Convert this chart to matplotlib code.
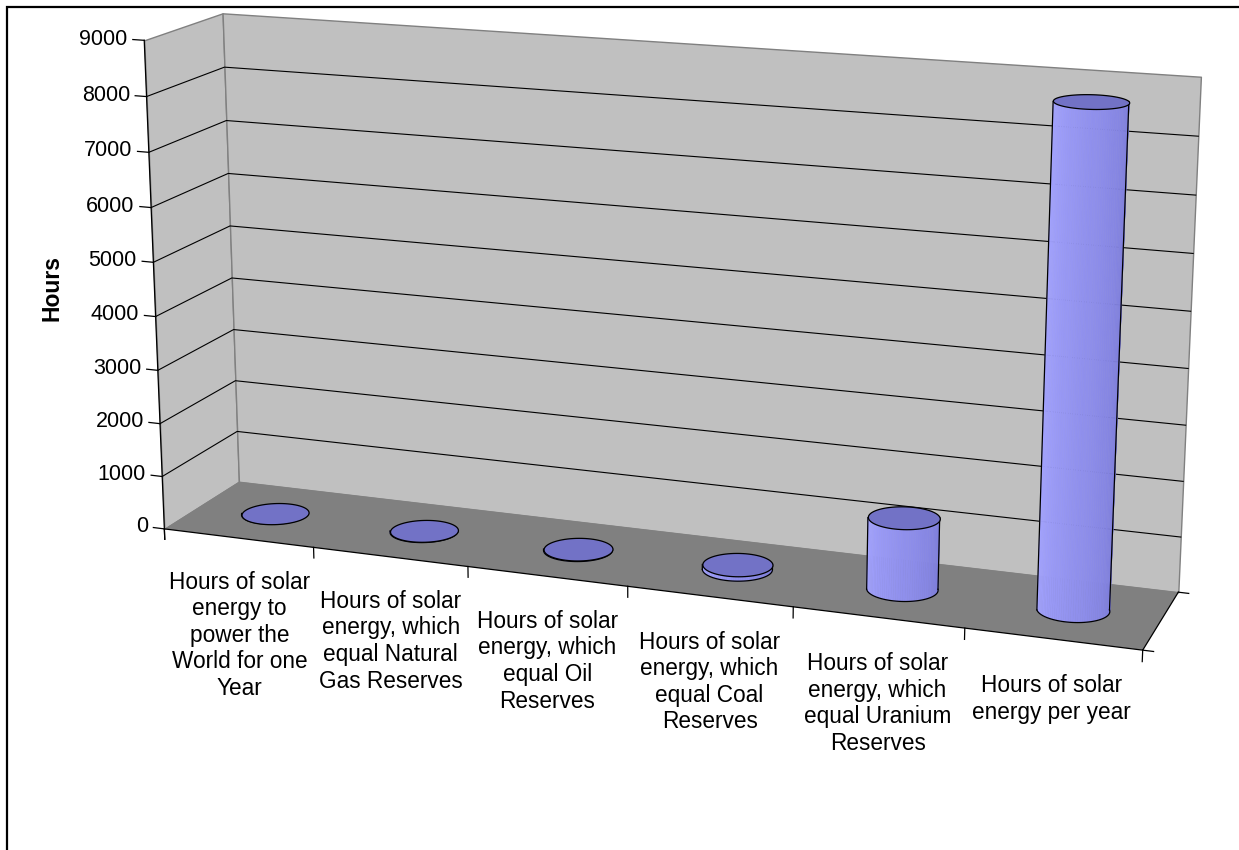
import numpy as np
import matplotlib.pyplot as plt
from mpl_toolkits.mplot3d.art3d import Poly3DCollection
from matplotlib.patches import Rectangle

plt.rcParams['font.family'] = ['Liberation Sans', 'DejaVu Sans']

# data
categories = [
    "Hours of solar\nenergy to\npower the\nWorld for one\nYear",
    "Hours of solar\nenergy, which\nequal Natural\nGas Reserves",
    "Hours of solar\nenergy, which\nequal Oil\nReserves",
    "Hours of solar\nenergy, which\nequal Coal\nReserves",
    "Hours of solar\nenergy, which\nequal Uranium\nReserves",
    "Hours of solar\nenergy per year",
]
hours = [1, 15, 20, 90, 1300, 8760]
ticks = [0, 1000, 2000, 3000, 4000, 5000, 6000, 7000, 8000, 9000]

# colours (Excel 2003 look)
wall_col = '#C0C0C0'
floor_col = '#808080'
top_col = np.array([0x72, 0x72, 0xC6]) / 255
light = np.array([0xA4, 0xA4, 0xFF]) / 255
dark = np.array([0x7A, 0x7A, 0xD8]) / 255

n = len(hours)
zmax = ticks[-1]
elev, azim = 15, -70
aspect = (5.9, 0.97, 2.95)

W, H = 1239, 850
fig = plt.figure(figsize=(W / 100, H / 100), dpi=100)
S = 1139
cx_px, cy_px = 657, 850 - 314
left = cx_px - 0.5135 * S
bottom = cy_px - 0.5135 * S
ax = fig.add_axes([left / W, bottom / H, S / W, S / H], projection='3d',
                  proj_type='persp', focal_length=0.53)
ax.computed_zorder = False
ax.set_box_aspect(aspect)
ax.view_init(elev=elev, azim=azim)
ax.set_axis_off()
ax.patch.set_alpha(0)

# walls and floor
ax.add_collection3d(Poly3DCollection([[(0, 0, 0), (0, 1, 0), (0, 1, zmax), (0, 0, zmax)]],
                                     facecolors=wall_col, edgecolors='#808080', linewidths=1, zorder=1))
ax.add_collection3d(Poly3DCollection([[(0, 1, 0), (n, 1, 0), (n, 1, zmax), (0, 1, zmax)]],
                                     facecolors=wall_col, edgecolors='#808080', linewidths=1, zorder=1))
ax.add_collection3d(Poly3DCollection([[(0, 0, 0), (n, 0, 0), (n, 1, 0), (0, 1, 0)]],
                                     facecolors=floor_col, edgecolors='none', zorder=2))

# gridlines on the walls
for v in ticks[1:-1]:
    ax.plot([0, 0, n], [0, 1, 1], [v, v, v], color='black', lw=0.8, zorder=3)

# axis lines, floor edges, tick marks
ax.plot([0, 0], [0, 0], [-200, zmax], color='black', lw=0.9, zorder=3)
ax.plot([0, n, n], [0, 0, 1], [0, 0, 0], color='black', lw=0.9, zorder=3)
for v in ticks:
    ax.plot([-0.075, 0], [0, 0], [v, v], color='black', lw=0.9, zorder=3)
    ax.text(-0.11, 0, v, str(v), ha='right', va='center', fontsize=15.5)
for k in range(n + 1):
    ax.plot([k, k], [0, 0], [0, -200], color='black', lw=0.9, zorder=3)
for d in (0, 1):
    ax.plot([n, n + 0.06], [d, d], [0, 0], color='black', lw=0.9, zorder=3)

# cylinders
cyl_r = 0.205
rx, ry = cyl_r, cyl_r * (aspect[0] / n) / aspect[1]
for i, h in enumerate(hours):
    cx, cy = i + 0.5, 0.5
    th = np.radians(np.linspace(azim - 90, azim + 90, 49))
    xs = cx + rx * np.cos(th)
    ys = cy + ry * np.sin(th)
    quads = [[(xs[j], ys[j], 0), (xs[j + 1], ys[j + 1], 0),
              (xs[j + 1], ys[j + 1], h), (xs[j], ys[j], h)] for j in range(len(th) - 1)]
    t = np.linspace(0, 1, len(quads))
    cols = [light * (1 - k) + dark * k for k in t]
    z0 = 10 + 3 * i
    ax.add_collection3d(Poly3DCollection(quads, facecolors=cols, edgecolors=cols,
                                         linewidths=0.4, zorder=z0))
    ax.plot(xs, ys, np.zeros_like(xs), color='black', lw=0.9, zorder=z0 + 1)
    for k in (0, -1):
        ax.plot([xs[k], xs[k]], [ys[k], ys[k]], [0, h], color='black', lw=0.9, zorder=z0 + 1)
    full = np.radians(np.linspace(0, 360, 73))
    top = [(cx + rx * np.cos(a), cy + ry * np.sin(a), h) for a in full]
    ax.add_collection3d(Poly3DCollection([top], facecolors=[top_col], edgecolors='black',
                                         linewidths=0.9, zorder=z0 + 2))

# category labels
for i, lab in enumerate(categories):
    ax.text(i + 0.5, 0, -620, lab, ha='center', va='top', fontsize=16.3, linespacing=1.2)

ax.set_xlim(0, n)
ax.set_ylim(0, 1)
ax.set_zlim(0, zmax)

fig.text(52 / W, 1 - 288 / H, 'Hours', rotation=90, fontweight='bold', fontsize=16.5,
         ha='center', va='center')

fig.patches.append(Rectangle((7 / W, -0.1), 1.2, 1.1 - 7 / H, transform=fig.transFigure,
                             fill=False, edgecolor='black', lw=1.6))

fig.savefig('out.png', dpi=100)
